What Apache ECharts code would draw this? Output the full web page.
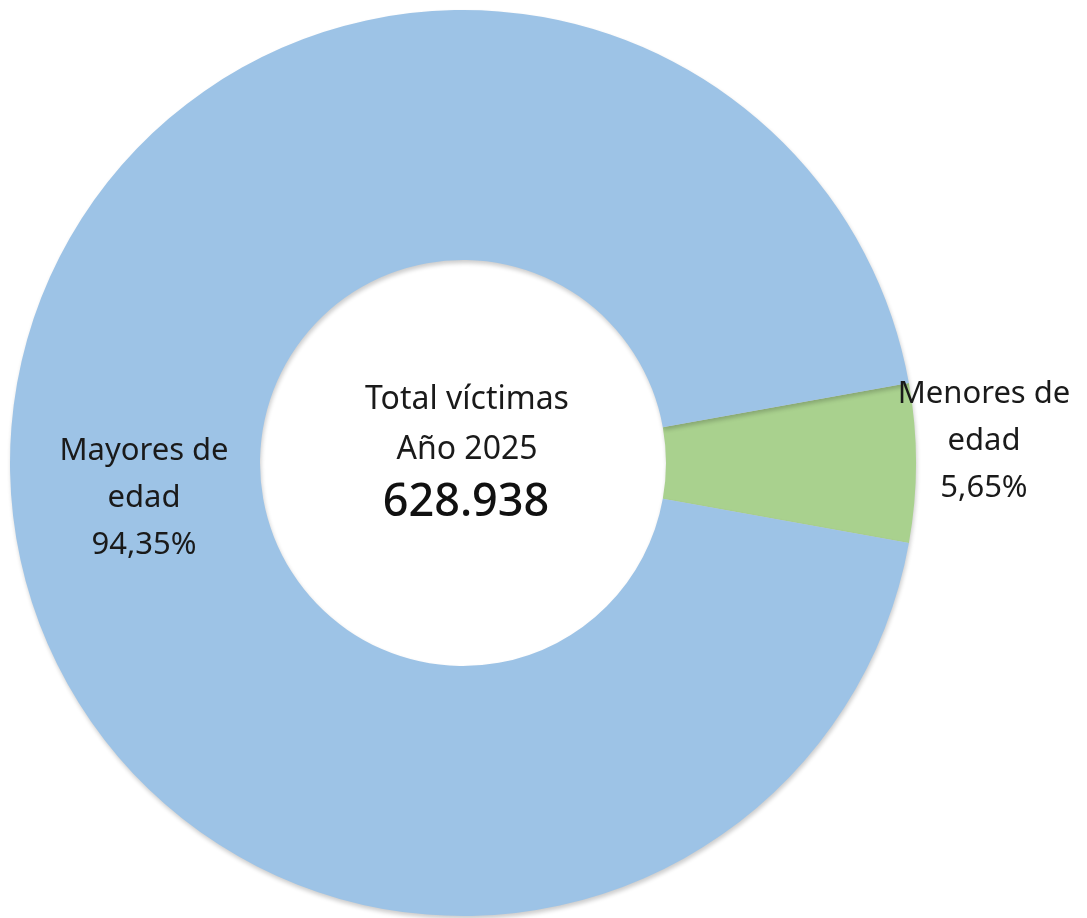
<!DOCTYPE html>
<html>
<head>
<meta charset="utf-8">
<script src="https://cdn.jsdelivr.net/npm/echarts@6/dist/echarts.min.js"></script>
<style>
  html, body { margin: 0; padding: 0; background: #fff; }
  #chart { width: 1087px; height: 918px; }
</style>
</head>
<body>
<div id="chart"></div>
<script>
// datos
var categorias = ["Menores de\nedad", "Mayores de\nedad"];
var porcentajes = [5.65, 94.35];
var colores = ["#A9D18E", "#9DC3E6"];
var tituloCentro = ["Total víctimas", "Año 2025"];
var totalVictimas = "628.938";

var fuente = "'Noto Sans', 'Open Sans', sans-serif";
var chart = echarts.init(document.getElementById("chart"));

var datos = categorias.map(function (c, i) {
  return { name: c, value: porcentajes[i], itemStyle: { color: colores[i] } };
});

// el sector verde queda centrado en la horizontal derecha
var inicio = (porcentajes[0] / 100) * 360 / 2;

var option = {
  backgroundColor: "#FFFFFF",
  animation: false,
  graphic: [
    {
      type: "text",
      x: 467,
      y: 425,
      style: {
        text: tituloCentro.join("\n"),
        align: "center",
        verticalAlign: "middle",
        font: "32px " + fuente,
        lineHeight: 50,
        fill: "#1a1a1a"
      }
    },
    {
      type: "text",
      x: 466,
      y: 503,
      style: {
        text: totalVictimas,
        align: "center",
        verticalAlign: "middle",
        font: "500 45px " + fuente,
        fill: "#111"
      }
    }
  ],
  series: [
    {
      type: "pie",
      center: [463, 463],
      radius: [203, 453],
      startAngle: inicio,
      clockwise: true,
      avoidLabelOverlap: false,
      itemStyle: {
        shadowBlur: 4,
        shadowOffsetX: 1,
        shadowOffsetY: 3,
        shadowColor: "rgba(0,0,0,0.2)"
      },
      label: {
        show: true,
        position: "inside",
        color: "#1a1a1a",
        fontSize: 31,
        fontFamily: fuente,
        lineHeight: 47,
        align: "center",
        formatter: function (p) {
          return p.name + "\n" + p.value.toFixed(2).replace(".", ",") + "%";
        }
      },
      labelLine: { show: false },
      labelLayout: function (p) {
        // desplazamiento de las etiquetas respecto al centro del anillo
        if (p.dataIndex === 0) {
          return { dx: 190, dy: -22 };
        }
        return { dx: 12, dy: 35 };
      },
      emphasis: { disabled: true },
      data: datos
    }
  ]
};

chart.setOption(option);
window.addEventListener("resize", function () {
  chart.resize();
});
</script>
</body>
</html>
